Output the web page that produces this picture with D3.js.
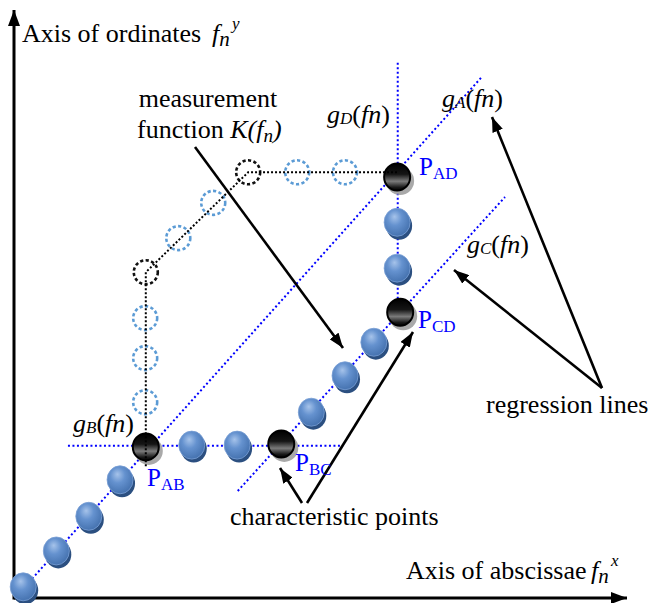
<!DOCTYPE html>
<html>
<head>
<meta charset="utf-8">
<script src="https://cdn.jsdelivr.net/npm/d3@7"></script>
<style>
  body { margin: 0; background: #fff; }
  svg { display: block; }
</style>
</head>
<body>
<svg id="chart"></svg>
<script>
const width = 654;
const height = 603;

// measured points of K(f_n) (filled blue bubbles), axis units 0..100
const measX = [1.5, 6.9, 12.2, 17.3, 29.0, 36.4, 48.5, 54.0, 58.7, 62.5, 62.5];
const measY = [1.9, 8.0, 13.9, 20.1, 26.0, 26.0, 31.6, 37.8, 43.5, 56.1, 63.9];

// characteristic points (black balls)
const charNames = ['AB', 'BC', 'CD', 'AD'];
const charX = [21.5, 43.6, 63.0, 62.5];
const charY = [25.7, 26.2, 48.6, 71.6];

// hypothetical course (dashed circles)
const ghostX = [21.4, 21.4, 21.4, 21.5, 26.8, 32.5, 38.2, 46.2, 54.0];
const ghostY = [33.3, 40.8, 47.6, 55.4, 61.2, 67.2, 72.4, 72.4, 72.4];
const ghostBlack = [false, false, false, true, false, false, true, false, false];

// black dotted path through the hypothetical course
const pathX = [21.5, 21.5, 38.2, 62.5];
const pathY = [22.4, 55.4, 72.4, 72.4];

// regression lines gA..gD : start and end
const regNames = ['A', 'B', 'C', 'D'];
const regX1 = [1.0, 8.8, 36.5, 62.6];
const regY1 = [1.0, 25.9, 18.2, 48.6];
const regX2 = [76.3, 53.7, 80.1, 62.6];
const regY2 = [88.6, 25.9, 68.2, 91.2];

const serif = '"Liberation Serif", "Times New Roman", serif';

const svg = d3.select('#chart')
  .attr('width', width)
  .attr('height', height)
  .style('font-family', serif);

const x = d3.scaleLinear().domain([0, 100]).range([14, 627]);
const y = d3.scaleLinear().domain([0, 100]).range([598, 10]);

const defs = svg.append('defs');

// arrow heads
defs.append('marker')
  .attr('id', 'axisHead')
  .attr('markerUnits', 'userSpaceOnUse')
  .attr('viewBox', '0 0 16 12')
  .attr('markerWidth', 16).attr('markerHeight', 12)
  .attr('refX', 16).attr('refY', 6)
  .attr('orient', 'auto')
  .append('path').attr('d', 'M0,0 L16,6 L0,12 Z').attr('fill', '#000');

defs.append('marker')
  .attr('id', 'arrHead')
  .attr('markerUnits', 'userSpaceOnUse')
  .attr('viewBox', '0 0 15 11')
  .attr('markerWidth', 15).attr('markerHeight', 11)
  .attr('refX', 15).attr('refY', 5.5)
  .attr('orient', 'auto')
  .append('path').attr('d', 'M0,0 L15,5.5 L0,11 Z').attr('fill', '#000');

// blue ball gradient
const bg = defs.append('radialGradient')
  .attr('id', 'blueBall')
  .attr('cx', '42%').attr('cy', '38%').attr('r', '62%')
  .attr('fx', '40%').attr('fy', '30%');
bg.append('stop').attr('offset', '0%').attr('stop-color', '#a6c3ea');
bg.append('stop').attr('offset', '45%').attr('stop-color', '#6592cf');
bg.append('stop').attr('offset', '100%').attr('stop-color', '#4673b0');

// black ball gradient
const kg = defs.append('linearGradient')
  .attr('id', 'blackBall')
  .attr('x1', 0).attr('y1', 0).attr('x2', 0).attr('y2', 1);
kg.append('stop').attr('offset', '0%').attr('stop-color', '#000');
kg.append('stop').attr('offset', '40%').attr('stop-color', '#151515');
kg.append('stop').attr('offset', '66%').attr('stop-color', '#7a7a7a');
kg.append('stop').attr('offset', '88%').attr('stop-color', '#1a1a1a');
kg.append('stop').attr('offset', '100%').attr('stop-color', '#000');

// axes
svg.append('line')
  .attr('x1', x(0)).attr('y1', y(0))
  .attr('x2', x(100)).attr('y2', y(0))
  .attr('stroke', '#000').attr('stroke-width', 3)
  .attr('marker-end', 'url(#axisHead)');
svg.append('line')
  .attr('x1', x(0)).attr('y1', y(0) + 1.5)
  .attr('x2', x(0)).attr('y2', y(100))
  .attr('stroke', '#000').attr('stroke-width', 3)
  .attr('marker-end', 'url(#axisHead)');

// regression lines
svg.selectAll('line.reg')
  .data(regNames)
  .enter()
  .append('line')
  .attr('class', 'reg')
  .attr('x1', (d, i) => x(regX1[i])).attr('y1', (d, i) => y(regY1[i]))
  .attr('x2', (d, i) => x(regX2[i])).attr('y2', (d, i) => y(regY2[i]))
  .attr('stroke', '#0000ff')
  .attr('stroke-width', 2)
  .attr('stroke-dasharray', '2,2.5');

// hypothetical course circles
svg.selectAll('circle.ghost')
  .data(ghostX)
  .enter()
  .append('circle')
  .attr('class', 'ghost')
  .attr('cx', d => x(d))
  .attr('cy', (d, i) => y(ghostY[i]))
  .attr('r', 12)
  .attr('fill', 'none')
  .attr('stroke', (d, i) => ghostBlack[i] ? '#111' : '#5b9bd5')
  .attr('stroke-width', 2.6)
  .attr('stroke-dasharray', '3.2,2.4');

// blue measurement bubbles
const blue = svg.selectAll('g.meas')
  .data(measX)
  .enter()
  .append('g')
  .attr('class', 'meas')
  .attr('transform', (d, i) => `translate(${x(d)},${y(measY[i])})`);
blue.append('ellipse')
  .attr('cx', 2).attr('cy', 3.5).attr('rx', 13).attr('ry', 14)
  .attr('fill', '#2b4f80');
blue.append('ellipse')
  .attr('rx', 13).attr('ry', 14)
  .attr('fill', 'url(#blueBall)')
  .attr('stroke', '#7aa0d6').attr('stroke-width', 0.8);

// characteristic points
const black = svg.selectAll('g.char')
  .data(charNames)
  .enter()
  .append('g')
  .attr('class', 'char')
  .attr('transform', (d, i) => `translate(${x(charX[i])},${y(charY[i])})`);
black.append('ellipse')
  .attr('cx', 3).attr('cy', 4).attr('rx', 14).attr('ry', 14)
  .attr('fill', '#9a9a9a').attr('opacity', 0.85);
black.append('ellipse')
  .attr('rx', 13).attr('ry', 13.5)
  .attr('fill', 'url(#blackBall)')
  .attr('stroke', '#000').attr('stroke-width', 2);

// black dotted course
svg.append('path')
  .datum(pathX.map((d, i) => [d, pathY[i]]))
  .attr('fill', 'none')
  .attr('stroke', '#000')
  .attr('stroke-width', 2)
  .attr('stroke-dasharray', '2,2')
  .attr('d', d3.line().x(d => x(d[0])).y(d => y(d[1])));

// annotation arrows
const arrows = [
  [195, 147, 343, 348],
  [602, 388, 492, 117],
  [602, 388, 454, 270],
  [302, 503, 280, 468],
  [307, 503, 413, 332]
];
svg.selectAll('line.arrow')
  .data(arrows)
  .enter()
  .append('line')
  .attr('class', 'arrow')
  .attr('x1', d => d[0]).attr('y1', d => d[1])
  .attr('x2', d => d[2]).attr('y2', d => d[3])
  .attr('stroke', '#000')
  .attr('stroke-width', 2.6)
  .attr('marker-end', 'url(#arrHead)');

// texts
const fs = 26;
function plain(tx, ty, str, anchor) {
  svg.append('text')
    .attr('x', tx).attr('y', ty)
    .attr('text-anchor', anchor || 'start')
    .style('font-size', fs + 'px')
    .text(str);
}

plain(22, 42, 'Axis of ordinates');
plain(406, 579, 'Axis of abscissae');
plain(208, 107, 'measurement', 'middle');
plain(230, 525, 'characteristic points');
plain(486, 413, 'regression lines');

// f_n^y and f_n^x
function fnLabel(tx, ty, sup) {
  const t = svg.append('text').attr('x', tx).attr('y', ty)
    .style('font-size', fs + 'px').style('font-style', 'italic');
  t.append('tspan').text('f');
  t.append('tspan').attr('dx', 0).attr('dy', 4).style('font-size', '21px').text('n');
  svg.append('text')
    .attr('x', tx + 20).attr('y', ty - 13)
    .style('font-size', '17px').style('font-style', 'italic')
    .text(sup);
}
fnLabel(212, 42, 'y');
fnLabel(591, 579, 'x');

// function K(f_n)
const kt = svg.append('text').attr('x', 137).attr('y', 138).style('font-size', fs + 'px');
kt.append('tspan').text('function ');
kt.append('tspan').style('font-style', 'italic').text('K(f');
kt.append('tspan').style('font-style', 'italic').style('font-size', '19px').attr('dy', 4).text('n');
kt.append('tspan').style('font-style', 'italic').attr('dy', -4).text(')');

// g labels
const gPos = { A: [442, 107], B: [73, 432], C: [467, 253], D: [327, 123] };
regNames.forEach(n => {
  const t = svg.append('text').attr('x', gPos[n][0]).attr('y', gPos[n][1]).style('font-size', fs + 'px');
  t.append('tspan').style('font-style', 'italic').text('g');
  t.append('tspan').style('font-style', 'italic').style('font-size', '17px').attr('dy', 1).text(n);
  t.append('tspan').attr('dy', -1).text('(');
  t.append('tspan').style('font-style', 'italic').text('f');
  t.append('tspan').style('font-style', 'italic').text('n');
  t.append('tspan').text(')');
});

// P labels
const pPos = { AB: [147, 486], BC: [295, 471], CD: [418, 328], AD: [419, 175] };
charNames.forEach(n => {
  const t = svg.append('text').attr('x', pPos[n][0]).attr('y', pPos[n][1])
    .attr('fill', '#0000ff').style('font-size', '25px');
  t.append('tspan').text('P');
  t.append('tspan').style('font-size', '17px').attr('dy', 4).text(n);
});
</script>
</body>
</html>
